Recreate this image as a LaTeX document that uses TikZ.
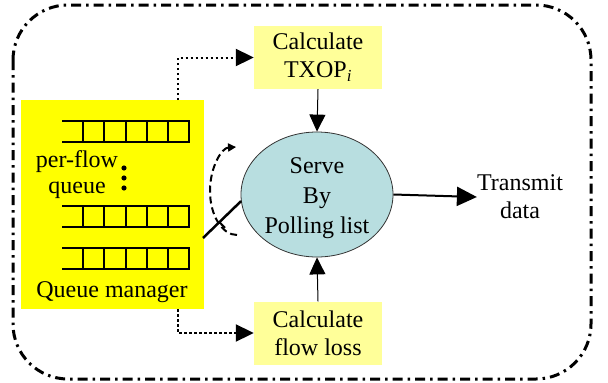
\documentclass[tikz,border=0pt]{standalone}
\usepackage{fontspec}
\setmainfont{Liberation Serif}
\usetikzlibrary{arrows.meta,calc,shapes.geometric}
\definecolor{qyellow}{HTML}{FFFF00}
\definecolor{lyellow}{HTML}{FFFF99}
\definecolor{lblue}{HTML}{B8DEE0}
\tikzset{
  txt/.style={font=\fontsize{24}{28}\selectfont, align=center, inner sep=0pt},
  calcbox/.style={txt, fill=lyellow, minimum width=128pt, minimum height=63pt},
  qline/.style={line width=2pt},
  dotarrow/.style={line width=2pt, dash pattern=on 2.5pt off 2.5pt, -{Triangle[length=18pt,width=17pt]}},
  solidarrow/.style={line width=1pt, -{Triangle[length=17pt,width=16pt]}},
}
\begin{document}
\begin{tikzpicture}[x=1pt,y=-1pt]
\useasboundingbox (0,0) rectangle (608,383);
% outer frame
\draw[line width=3pt, rounded corners=55pt, dash pattern=on 10pt off 5pt on 2.5pt off 5pt] (13,5) rectangle (591,379);
% queue manager
\node[fill=qyellow, minimum width=183pt, minimum height=209pt, inner sep=0pt] (qm) at (112.5,204.5) {};
\foreach \y in {121,206,248}{
  \draw[qline] (62,\y) -- (189,\y) -- (189,\y+21) -- (62,\y+21);
  \foreach \x in {83,104,126,147,168}{\draw[qline] (\x,\y) -- (\x,\y+21);}
}
\node[txt, anchor=base] (pf) at (77,167) {per-flow};
\node[txt, anchor=base] (pq) at (77,193) {queue};
\foreach \y in {168,178,188}{\fill (124,\y) circle (2.6pt);}
\node[txt, anchor=base] (qmt) at (112,297) {Queue manager};
% calc boxes
\node[calcbox] (txop) at (318,57.5) {Calculate\\TXOP\textsubscript{\textit{i}}};
\node[calcbox] (loss) at (318,333) {Calculate\\flow loss};
% server
\node[ellipse, draw=black!80, line width=0.8pt, fill=lblue, minimum width=152pt, minimum height=125pt, inner sep=0pt] (srv) at (317,194.5) {};
\node[txt, font=\fontsize{24}{30}\selectfont] (srvtxt) at (317,198) {Serve\\By\\Polling list};
% transmit
\node[txt] (tx) at (520,197) {Transmit\\data};
% connectors
\coordinate (qt) at (178,100);
\coordinate (qb) at (178,309);
\draw[dotarrow] (qt) |- (txop.west);
\draw[dotarrow] (qb) |- (loss.west);
\draw[solidarrow] (txop.south) -- (srv.north);
\draw[solidarrow] (loss.north) -- (srv.south);
\draw[line width=2pt, -{Triangle[length=20pt,width=19pt]}] (srv.east) -- (tx.west);
% switch
\coordinate (sw1) at (203,238);
\draw[line width=2.5pt] (sw1) -- (srv.185);
\draw[line width=2pt] ($(sw1)!0.43!(srv.185)$) -- ++(5.6,5.7);
\draw[line width=2pt, dash pattern=on 7pt off 4pt, -{Triangle[length=8pt,width=8pt]}] (237,235) arc[start angle=90, end angle=268, x radius=27, y radius=44];
\end{tikzpicture}
\end{document}
